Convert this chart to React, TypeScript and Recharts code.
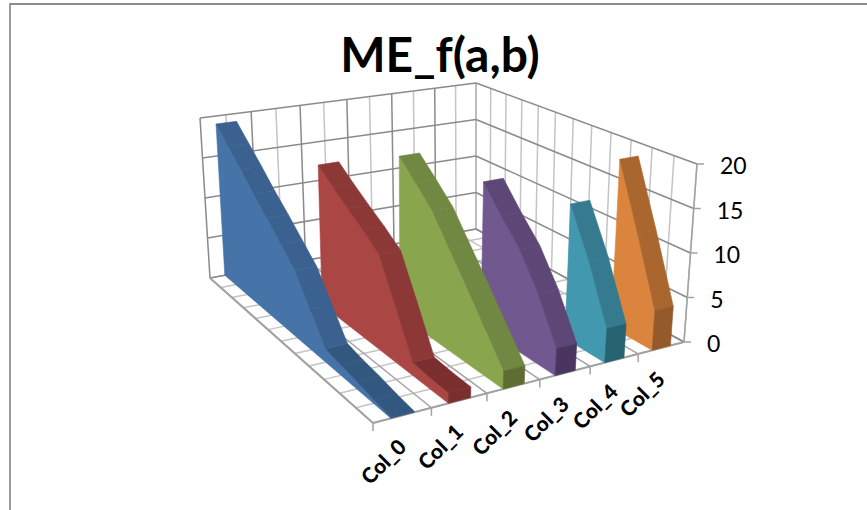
import React from 'react';
import { ScatterChart, Scatter, XAxis, YAxis } from 'recharts';

const title = 'ME_f(a,b)';
const categories = ['Col_0', 'Col_1', 'Col_2', 'Col_3', 'Col_4', 'Col_5'];
const valueTicks = [0, 5, 10, 15, 20];
const depthSteps = 12;

// values per row, front of the chart first
const col0 = [0.1, 0.4, 0.8, 1.1, 1.5, 4.5, 7.6, 9.5, 11.4, 13.2, 15.2, 17.1, 19];
const col1 = [1.1, 1.2, 1.4, 6, 10.6, 12.2, 13.6, 15.1, 16.7];
const col2 = [1.9, 5, 8.1, 11.2, 14.4, 16.6, 18.7];
const col3 = [2.9, 7.5, 11.2, 13.8, 16.7];
const col4 = [3.7, 9.9, 15.2];
const col5 = [4.4, 11.9, 19.3];
const allSeries = [col0, col1, col2, col3, col4, col5];

const faceColors = ['#4673a8', '#aa4643', '#89a54e', '#71588f', '#4198af', '#db843d'];
const stripColors = ['#3a6190', '#8c3836', '#718842', '#5c4776', '#357a8f', '#a9662e'];
const capColors = ['#335880', '#7a2e2d', '#5e6e32', '#4a3560', '#26626f', '#96592a'];

type Pt = { x: number; y: number };

function makeQuad(p0: number[], p1: number[], p2: number[], p3: number[]) {
  const dx1 = p1[0] - p2[0], dx2 = p3[0] - p2[0], sx = p0[0] - p1[0] + p2[0] - p3[0];
  const dy1 = p1[1] - p2[1], dy2 = p3[1] - p2[1], sy = p0[1] - p1[1] + p2[1] - p3[1];
  const den = dx1 * dy2 - dx2 * dy1;
  const g = (sx * dy2 - dx2 * sy) / den;
  const h = (dx1 * sy - sx * dy1) / den;
  const a = p1[0] - p0[0] + g * p1[0], b = p3[0] - p0[0] + h * p3[0];
  const d = p1[1] - p0[1] + g * p1[1], e = p3[1] - p0[1] + h * p3[1];
  return (u: number, v: number): Pt => {
    const w = g * u + h * v + 1;
    return { x: (a * u + b * v + p0[0]) / w, y: (d * u + e * v + p0[1]) / w };
  };
}

const floor = makeQuad([373, 423], [684, 342], [476, 229], [210, 278]);
const roof = makeQuad([372, 225], [697, 164], [476, 83], [200, 118]);

// s: category position 0..6, row: depth position 0..12, v: value 0..20
function project(s: number, row: number, v: number): Pt {
  const a = floor(s / 6, row / depthSteps);
  const b = roof(s / 6, row / depthSteps);
  const t = v / 20;
  return { x: a.x + (b.x - a.x) * t, y: a.y + (b.y - a.y) * t };
}

const noDot = () => <g />;

function Poly(points: Pt[], fill: string, key: string) {
  return (
    <Scatter
      key={key}
      data={[...points, points[0]]}
      shape={noDot}
      line={{ stroke: fill, strokeWidth: 0.6, fill }}
      isAnimationActive={false}
    />
  );
}

function Seg(a: Pt, b: Pt, stroke: string, width: number, key: string) {
  return (
    <Scatter
      key={key}
      data={[a, b]}
      shape={noDot}
      line={{ stroke, strokeWidth: width, fill: 'none' }}
      isAnimationActive={false}
    />
  );
}

const dark = '#8a8a8a';
const light = '#c4c4c4';
const rim = '#a2a2a2';

function gridLines() {
  const out: React.ReactNode[] = [];
  const halves = Array.from({ length: 13 }, (_, i) => i / 2);
  const rows = Array.from({ length: depthSteps + 1 }, (_, i) => i);
  // floor
  rows.forEach((r) => out.push(Seg(project(0, r, 0), project(6, r, 0), light, 1.5, `fr${r}`)));
  halves.forEach((s) =>
    out.push(Seg(project(s, 0, 0), project(s, depthSteps, 0), Number.isInteger(s) ? rim : light, 1.5, `fs${s}`)),
  );
  // left wall
  halves.forEach((s) =>
    out.push(Seg(project(s, depthSteps, 0), project(s, depthSteps, 20), Number.isInteger(s) ? dark : light, 1.5, `ws${s}`)),
  );
  // right wall
  rows.forEach((r) => out.push(Seg(project(6, r, 0), project(6, r, 20), light, 1.5, `wr${r}`)));
  valueTicks.forEach((v) => {
    out.push(Seg(project(0, depthSteps, v), project(6, depthSteps, v), dark, 1.5, `hl${v}`));
    out.push(Seg(project(6, depthSteps, v), project(6, 0, v), dark, 1.5, `hr${v}`));
    const p = project(6, 0, v);
    out.push(Seg(p, { x: p.x + 7, y: p.y }, rim, 1.5, `tv${v}`));
  });
  // front edges and category ticks
  out.push(Seg(project(0, 0, 0), project(6, 0, 0), rim, 2, 'edgeFront'));
  out.push(Seg(project(0, 0, 0), project(0, depthSteps, 0), rim, 2, 'edgeSide'));
  out.push(Seg(project(6, 0, 0), project(6, 0, 20), rim, 1.5, 'edgeRight'));
  categories.forEach((_, i) => {
    const p = project(i, 0, 0);
    out.push(Seg(p, { x: p.x, y: p.y + 8 }, rim, 1.5, `tc${i}`));
  });
  return out;
}

function ribbons() {
  const out: React.ReactNode[] = [];
  for (let i = allSeries.length - 1; i >= 0; i--) {
    const vals = allSeries[i];
    const sL = i + 0.3;
    const sR = i + 0.7;
    const last = vals.length - 1;
    // side face
    const face: Pt[] = [project(sL, 0, 0), project(sL, last, 0)];
    for (let j = last; j >= 0; j--) face.push(project(sL, j, vals[j]));
    out.push(Poly(face, faceColors[i], `face${i}`));
    // top strip, one piece per row step
    for (let j = 0; j < last; j++) {
      const flat = Math.abs(vals[j + 1] - vals[j]) < 1;
      out.push(
        Poly(
          [project(sL, j, vals[j]), project(sR, j, vals[j]), project(sR, j + 1, vals[j + 1]), project(sL, j + 1, vals[j + 1])],
          flat ? capColors[i] : stripColors[i],
          `strip${i}-${j}`,
        ),
      );
    }
    // front cap
    out.push(
      Poly(
        [project(sL, 0, 0), project(sR, 0, 0), project(sR, 0, vals[0]), project(sL, 0, vals[0])],
        capColors[i],
        `cap${i}`,
      ),
    );
  }
  return out;
}

const valueLabels = valueTicks.map((v) => ({ ...project(6, 0, v), label: String(v) }));
const categoryLabels = categories.map((c, i) => ({ ...project(i + 0.5, 0, 0), label: c }));

const ValueText = (p: any) => (
  <text x={p.cx + 23} y={p.cy + 10} fontFamily="Lato, sans-serif" fontSize={23} fill="#000">
    {p.payload.label}
  </text>
);

const CategoryText = (p: any) => {
  const x = p.cx + 5;
  const y = p.cy + 33;
  return (
    <text x={x} y={y} textAnchor="end" transform={`rotate(-45 ${x} ${y})`} fontFamily="Lato, sans-serif" fontWeight={900} fontSize={21} fill="#000">
      {p.payload.label}
    </text>
  );
};

export default function App() {
  return (
    <div style={{ position: 'absolute', left: 0, top: 0, width: 867, height: 510, background: '#fff' }}>
      <div style={{ position: 'absolute', left: 9, top: 3, right: 0, bottom: 0, borderTop: '2px solid #8c8c8c', borderLeft: '2px solid #9a9a9a' }} />
      <div style={{ position: 'absolute', left: 0, right: 0, top: 26, paddingLeft: 13, textAlign: 'center', fontFamily: 'Lato, sans-serif', fontWeight: 700, fontSize: 48, lineHeight: '56px', color: '#000' }}>
        {title}
      </div>
      <div style={{ position: 'absolute', left: 0, top: 0 }}>
        <ScatterChart width={867} height={510} margin={{ top: 0, right: 0, bottom: 0, left: 0 }}>
          <XAxis type="number" dataKey="x" domain={[0, 867]} hide />
          <YAxis type="number" dataKey="y" domain={[0, 510]} reversed hide />
          {gridLines()}
          {ribbons()}
          <Scatter data={valueLabels} shape={ValueText} isAnimationActive={false} />
          <Scatter data={categoryLabels} shape={CategoryText} isAnimationActive={false} />
        </ScatterChart>
      </div>
    </div>
  );
}
